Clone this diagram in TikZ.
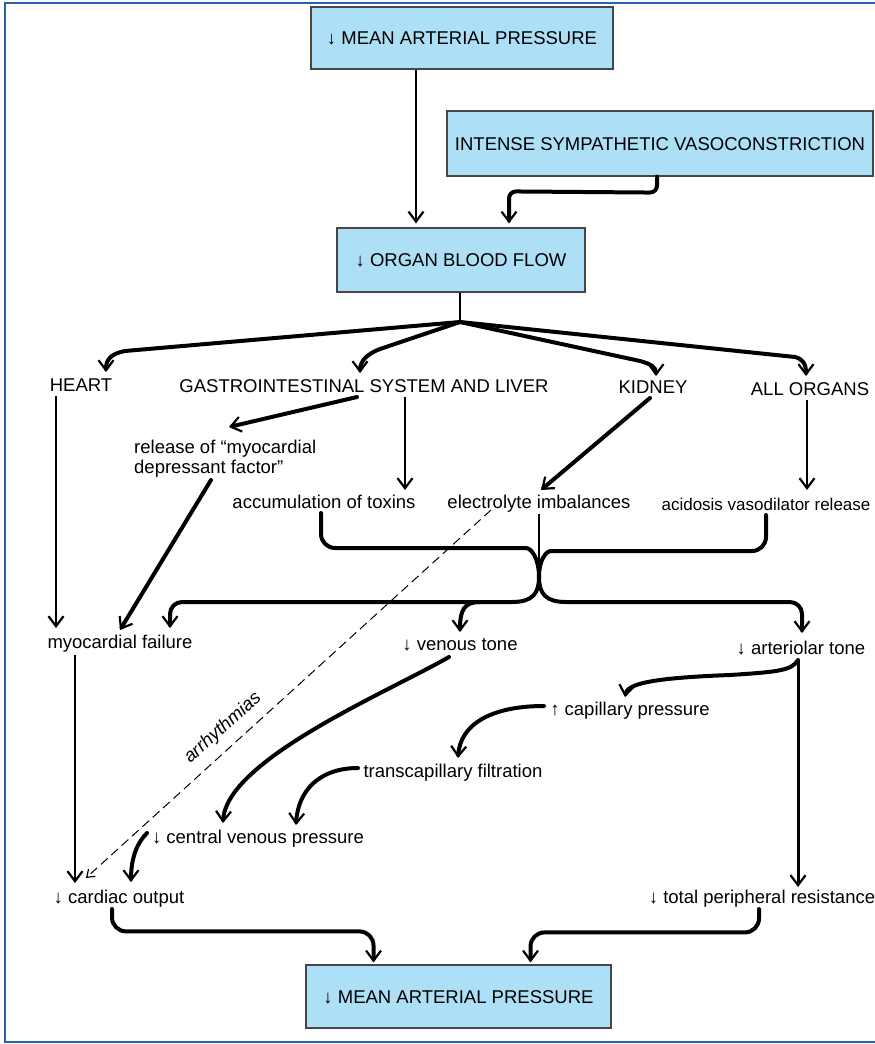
\documentclass[tikz,border=0pt]{standalone}
\usepackage{fontspec}
\setmainfont{Liberation Sans}
\usetikzlibrary{arrows.meta,calc}
\definecolor{boxblue}{RGB}{173,224,247}
\definecolor{framecol}{RGB}{40,100,170}
\definecolor{boxline}{RGB}{70,70,70}
\newcommand\fs{\fontsize{18.5}{20}\selectfont}
\begin{document}
\begin{tikzpicture}[x=1pt,y=-1pt,
  >={Straight Barb[length=10pt,width=15pt,line width'=2.2pt]},
  box/.style={draw=boxline, line width=1.2pt, fill=boxblue, font=\fs, inner sep=0pt, text height=13pt, text depth=0pt},
  lab/.style={font=\fs, inner sep=0pt, anchor=base},
  thk/.style={line width=4pt, ->, line cap=round},
  med/.style={line width=2.6pt, ->},
  plain/.style={line width=4pt, line cap=round},
  dsh/.style={line width=1pt, dash pattern=on 9pt off 5pt, -{Straight Barb[length=7pt,width=10pt,line width'=1.2pt]}}
]
\useasboundingbox (0,0) rectangle (875,1044);
\draw[framecol, line width=2pt] (875,3) -- (5,3) -- (5,1042) -- (875,1042);

% boxes
\node[box, minimum width=302pt, minimum height=62pt] (mapT) at (462,38) {↓ MEAN ARTERIAL PRESSURE};
\node[box, minimum width=426pt, minimum height=65pt] (isv) at (660,143.5) {INTENSE SYMPATHETIC VASOCONSTRICTION};
\node[box, minimum width=248pt, minimum height=64pt] (obf) at (461,260) {↓ ORGAN BLOOD FLOW};
\node[box, minimum width=305pt, minimum height=63pt] (mapB) at (458.5,996.5) {↓ MEAN ARTERIAL PRESSURE};

% labels
\node[lab] (heart) at (81,391) {HEART};
\node[lab] (gi) at (364,392) {GASTROINTESTINAL SYSTEM AND LIVER};
\node[lab] (kidney) at (653,393) {KIDNEY};
\node[lab] (allorg) at (810,395) {ALL ORGANS};
\node[lab, anchor=north west, align=left] (rel) at (134,440) {release of “myocardial\\depressant factor”};
\node[lab] (tox) at (324,508) {accumulation of toxins};
\node[lab] (elec) at (539,508) {electrolyte imbalances};
\node[lab, font=\fontsize{17}{20}\selectfont] (acid) at (766,510) {acidosis vasodilator release};
\node[lab] (myo) at (120,648) {myocardial failure};
\node[lab] (ven) at (460,650) {↓ venous tone};
\node[lab] (art) at (801,654) {↓ arteriolar tone};
\node[lab] (cap) at (630,715) {↑ capillary pressure};
\node[lab] (trans) at (453,777) {transcapillary filtration};
\node[lab] (cvp) at (258,843) {↓ central venous pressure};
\node[lab] (co) at (119,903) {↓ cardiac output};
\node[lab] (tpr) at (762,903) {↓ total peripheral resistance};
\node[font=\fs\itshape, inner sep=0pt, rotate=42] (arr) at (223,728) {arrhythmias};

\coordinate (hub) at (460,322);
\coordinate (mrg) at (539,577);
\coordinate (brv) at (480,602);

% top connectors
\draw[med] ($(mapT.south)+(-46,0)$) -- ($(obf.north)+(-45,-4)$);
\draw[thk, rounded corners=7pt] ($(isv.south)+(-3,0)$) -- ++(0,16) -- ($(obf.north)+(48,-36)$) -- ($(obf.north)+(48,-4)$);
\draw[line width=2.8pt] ($(obf.south)+(-1,0)$) -- (hub);

% hub fan
\draw[thk] (hub) -- ($(heart.base)+(44,-40)$) .. controls ($(heart.base)+(29,-37)$) and ($(heart.base)+(25,-31)$) .. ($(heart.base)+(25,-19)$);
\draw[thk] (hub) -- ($(gi.base)+(16,-43)$) .. controls ($(gi.base)+(3,-38)$) and ($(gi.base)+(-4,-31)$) .. ($(gi.base)+(-4,-19)$);
\draw[thk] (hub) -- ($(kidney.base)+(-13,-32)$) .. controls ($(kidney.base)+(-2,-29)$) and ($(kidney.base)+(3,-26)$) .. ($(kidney.base)+(3,-17)$);
\draw[thk] (hub) -- ($(allorg.base)+(-15,-38)$) .. controls ($(allorg.base)+(-7,-36)$) and ($(allorg.base)+(-4,-31)$) .. ($(allorg.base)+(-4,-19)$);

% organ outputs
\draw[thk] ($(gi.base)+(-7,5)$) -- ($(rel.north west)+(95,-13)$);
\draw[med] ($(gi.base)+(41,5)$) -- ($(tox.base)+(81,-18)$);
\draw[thk] ($(kidney.base)+(-3,5)$) -- ($(elec.base)+(2,-18)$);
\draw[med] ($(allorg.base)+(-3,5)$) -- ($(acid.base)+(41,-20)$);
\draw[thk] ($(rel.north west)+(77,40)$) -- ($(myo.base)+(0,-18)$);
\draw[med] ($(heart.base)+(-25,5)$) -- ($(myo.base)+(-64,-20)$);

% bracket
\draw[plain, rounded corners=14pt] ($(tox.base)+(-3,5)$) |- (512,548) [sharp corners] .. controls (531,548) and (539,558) .. (mrg);
\draw[plain, rounded corners=14pt] ($(acid.base)+(0,5)$) |- (565,551) [sharp corners] .. controls (546,551) and (539,560) .. (mrg);
\draw[line width=2.8pt] ($(elec.base)+(0,6)$) -- (mrg);
\draw[thk] (mrg) .. controls (539,594) and (532,602) .. (512,602) [rounded corners=12pt] -- (170,602) -- ($(myo.base)+(50,-20)$);
\draw[thk] (mrg) .. controls (539,594) and (546,602) .. (566,602) [rounded corners=12pt] -- (802,602) -- ($(art.base)+(1,-21)$);
\draw[thk] (brv) .. controls (464,602) and (460,610) .. ($(ven.base)+(0,-18)$);

% lower connectors
\draw[med] ($(myo.base)+(-45,7)$) -- ($(co.base)+(-44,-20)$);
\draw[dsh] ($(elec.base)+(-48,2)$) -- ($(co.base)+(-33,-25)$);
\draw[thk] ($(ven.base)+(-11,7)$) .. controls (388,692) and (226,760) .. ($(cvp.base)+(-35,-20)$);
\draw[thk] ($(art.base)+(-3,6)$) .. controls (792,671) and (775,672) .. (730,675) .. controls (650,678) and (627,684) .. ($(cap.base)+(-5,-18)$);
\draw[med, line width=3pt] ($(art.base)+(-3,6)$) -- ($(tpr.base)+(36,-16)$);
\draw[thk] ($(cap.base)+(-86,-9)$) .. controls (490,706) and (460,725) .. ($(trans.base)+(5,-19)$);
\draw[thk] ($(trans.base)+(-95,-9)$) .. controls (320,768) and (298,790) .. ($(cvp.base)+(38,-18)$);
\draw[thk] ($(cvp.base)+(-111,-10)$) .. controls (138,842) and (131,856) .. ($(co.base)+(12,-21)$);
\draw[thk, rounded corners=14pt] ($(co.base)+(-7,6)$) |- ($(mapB.north)+(-85,-33)$) -- ($(mapB.north)+(-85,-2)$);
\draw[thk, rounded corners=14pt] ($(tpr.base)+(-3,6)$) |- ($(mapB.north)+(72,-32)$) -- ($(mapB.north)+(72,-2)$);
\end{tikzpicture}
\end{document}
